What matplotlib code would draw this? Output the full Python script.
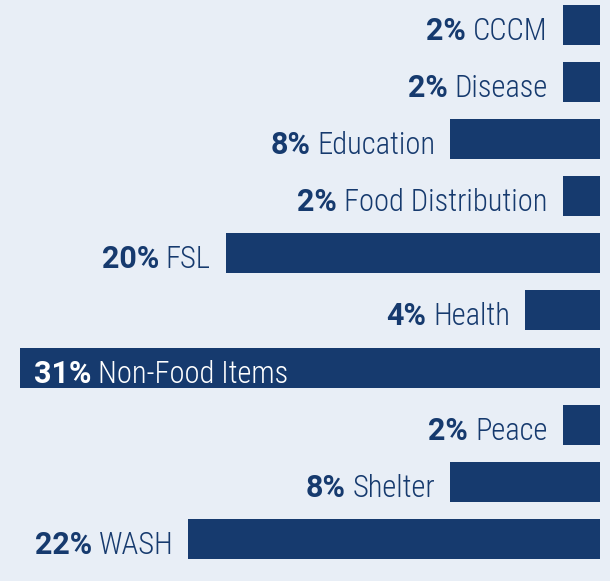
import matplotlib
matplotlib.use("Agg")
import matplotlib.pyplot as plt
from matplotlib import font_manager
from matplotlib.transforms import offset_copy

categories = ["CCCM", "Disease", "Education", "Food Distribution", "FSL",
              "Health", "Non-Food Items", "Peace", "Shelter", "WASH"]
values = [2, 2, 8, 2, 20, 4, 31, 2, 8, 22]

BG = "#e8eef6"
BAR = "#163a6e"

avail = {f.name for f in font_manager.fontManager.ttflist}
fam = [f for f in ["Roboto Condensed", "Liberation Sans Narrow", "Roboto", "DejaVu Sans"] if f in avail]
famb = [f for f in ["Roboto", "DejaVu Sans"] if f in avail]
plt.rcParams['font.family'] = fam

W, H, DPI = 610, 581, 100
fig = plt.figure(figsize=(W / DPI, H / DPI), dpi=DPI, facecolor=BG)
ax = fig.add_axes([0, 0, 1, 1], facecolor=BG)

scale = 580 / 31.0
ax.set_xlim(-600 / scale, 10 / scale)
pitch = 57.1
ax.set_ylim((H - 25) / pitch, -25 / pitch)

y = list(range(len(categories)))
ax.barh(y, [-v for v in values], left=0, height=40 / pitch, color=BAR)
ax.axis("off")

fs = 22.0
fsb = 22.0
dy = -15
gap = 7
fig.canvas.draw()
r = fig.canvas.get_renderer()
maxv = max(values)
for i, (c, v) in enumerate(zip(categories, values)):
    if v == maxv:
        tr = offset_copy(ax.transData, fig=fig, x=14, y=dy, units="dots")
        t1 = ax.text(-v, i, f"{v}%", ha="left", va="baseline", fontsize=fsb,
                     fontweight="bold", family=famb, color="white", transform=tr)
        w = t1.get_window_extent(r).width
        tr2 = offset_copy(ax.transData, fig=fig, x=14 + w + gap, y=dy, units="dots")
        ax.text(-v, i, c, ha="left", va="baseline", fontsize=fs,
                fontweight="light", color="white", transform=tr2)
    else:
        tr = offset_copy(ax.transData, fig=fig, x=-15, y=dy, units="dots")
        t1 = ax.text(-v, i, c, ha="right", va="baseline", fontsize=fs,
                     fontweight="light", color=BAR, transform=tr)
        w = t1.get_window_extent(r).width
        tr2 = offset_copy(ax.transData, fig=fig, x=-15 - w - gap, y=dy, units="dots")
        ax.text(-v, i, f"{v}%", ha="right", va="baseline", fontsize=fsb,
                fontweight="bold", family=famb, color=BAR, transform=tr2)

fig.savefig("out.png", dpi=DPI, facecolor=BG)
